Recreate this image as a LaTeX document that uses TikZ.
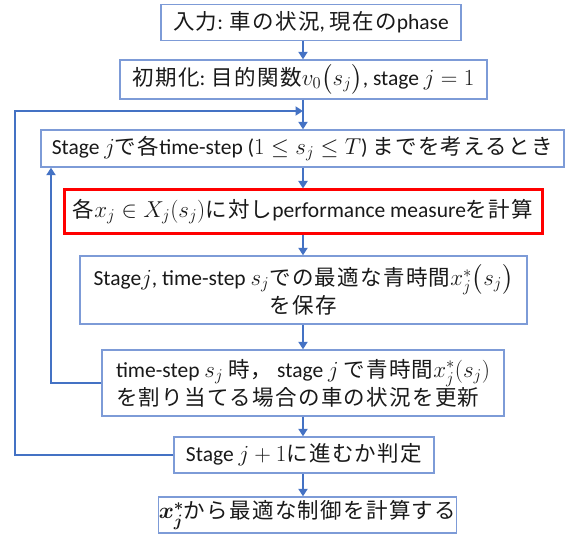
\RequirePackage{fix-cm}
\documentclass[tikz,border=0pt]{standalone}
\usepackage{amsmath,bm}
\usepackage{fontspec}
\setmainfont{Carlito}
\newfontfamily\cjk[LetterSpace=6]{Noto Sans CJK JP}
\newcommand\J[1]{{\cjk #1}}
\DeclareMathSizes{21.5}{23}{16.5}{12.5}
\usetikzlibrary{arrows.meta}
\definecolor{connc}{RGB}{68,114,196}
\definecolor{boxb}{RGB}{125,155,215}
\definecolor{txt}{RGB}{25,25,25}
\begin{document}
\begin{tikzpicture}[x=1pt,y=-1pt,
  box/.style={draw=boxb,line width=1.3pt,fill=white,text=txt,inner sep=0pt,
    font=\fontsize{21.5}{28}\selectfont},
  redbox/.style={box,draw=red,line width=3pt},
  arr/.style={draw=connc,line width=2.5pt,-{Triangle[length=7.5pt,width=9pt]}}]
\useasboundingbox (0,0) rectangle (566,535);
\coordinate (col) at (303,0);
\node[box,minimum width=300pt,minimum height=36.4pt] (b1) at (311,22.5)
  {\J{入力}: \J{車の状況}, \J{現在の}phase};
\node[box,minimum width=367pt,minimum height=39pt] (b2) at (303.5,79.5)
  {\J{初期化}: \J{目的関数}$v_0\bigl(s_j\bigr)$, stage $j=1$};
\node[box,minimum width=523pt,minimum height=37pt] (b3) at (302.35,148.5)
  {Stage $j$\J{で各}time-step ($1\le s_j\le T$) \J{までを考えるとき}};
\node[redbox,minimum width=478pt,minimum height=43pt] (b4) at (303,211.5)
  {\J{各}$x_j\in X_j(s_j)$\J{に対し}performance measure\J{を計算}};
\node[box,minimum width=447pt,minimum height=68pt,align=center] (b5) at (303.5,290)
  {Stage$j$, time-step $s_j$\J{での最適な青時間}$x_j^*\bigl(s_j\bigr)$\\\J{を保存}};
\node[box,minimum width=402pt,minimum height=66pt,align=left] (b6) at (303,383)
  {time-step $s_j$ \J{時，} stage $j$ \J{で青時間}$x_j^*(s_j)$\\\J{を割り当てる場合の車の状況を更新}};
\node[box,minimum width=260pt,minimum height=36pt] (b7) at (304,455)
  {Stage $j+1$\J{に進むか判定}};
\node[box,minimum width=291pt,minimum height=36pt] (b8) at (307.5,515)
  {$\boldsymbol{x_j^*}$\J{から最適な制御を計算する}};
\coordinate (oc) at (15,111);
\coordinate (ic) at (51,383);
\draw[arr] (b1.south -| col) -- (b2.north -| col);
\draw[arr] (b2.south -| col) -- (b3.north -| col);
\draw[arr] (b3.south -| col) -- (b4.north -| col);
\draw[arr] (b4.south -| col) -- (b5.north -| col);
\draw[arr] (b5.south -| col) -- (b6.north -| col);
\draw[arr] (b6.south -| col) -- (b7.north -| col);
\draw[arr] (b7.south -| col) -- (b8.north -| col);
\draw[arr] (b7.west) -| (oc) -- (oc -| col);
\draw[arr] (b6.west) -| (b3.south -| ic);
\end{tikzpicture}
\end{document}
